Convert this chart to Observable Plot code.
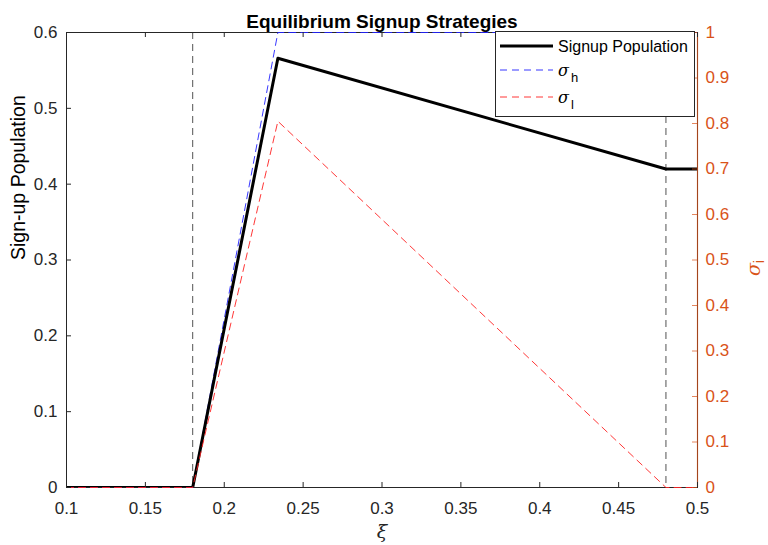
<!DOCTYPE html>
<html><head><meta charset="utf-8">
<script src="https://cdn.jsdelivr.net/npm/d3@7"></script>
<script src="https://cdn.jsdelivr.net/npm/@observablehq/plot@0.6"></script>
<style>
body{margin:0;background:#fff;font-family:"Liberation Sans",Arial,sans-serif;}
#wrap{position:relative;width:768px;height:545px;overflow:hidden;}
#legend{position:absolute;left:495px;top:31px;}
</style>
</head><body>
<div id="wrap"></div>
<script>
// ---- data ----
const xi      = [0.1, 0.18, 0.234, 0.48, 0.5];
const signup  = [0, 0, 0.566, 0.42, 0.42];
const sigmaH  = [0, 0, 1, 1, 1];
const sigmaL  = [0, 0, 0.805, 0, 0];
const thresholds = [0.18, 0.48];
const xTicks = [0.1, 0.15, 0.2, 0.25, 0.3, 0.35, 0.4, 0.45, 0.5];
const yTicks = [0, 0.1, 0.2, 0.3, 0.4, 0.5, 0.6];
const sTicks = [0, 0.1, 0.2, 0.3, 0.4, 0.5, 0.6, 0.7, 0.8, 0.9, 1];
const title = "Equilibrium Signup Strategies";
const yLabel = "Sign-up Population";
const xLabel = "ξ";
const legendNames = ["Signup Population", "σ|h", "σ|l"];

const rows = xi.map((x, i) => ({xi: x, signup: signup[i], sigmaH: sigmaH[i], sigmaL: sigmaL[i]}));

const W = 768, H = 545, mL = 66, mR = 71, mT = 32, mB = 58;
const pW = W - mL - mR, pH = H - mT - mB;
const yMax = 0.6; // left axis max; right axis (0..1) mapped onto it
const fmt = d => String(Math.round(d * 100) / 100);
const ORANGE = "#D95319", INK = "#262626";

const chart = Plot.plot({
  width: W, height: H,
  marginLeft: mL, marginRight: mR, marginTop: mT, marginBottom: mB,
  x: {domain: [0.1, 0.5]},
  y: {domain: [0, yMax]},
  style: {fontFamily: "'Liberation Sans', Arial, sans-serif", fontSize: "17px", color: INK, background: "#fff"},
  marks: [
    Plot.frame({stroke: INK, strokeWidth: 1}),
    Plot.ruleX([0.5], {x: d => d, stroke: ORANGE, strokeOpacity: 0.7, strokeWidth: 1.2}),
    Plot.ruleX(thresholds, {x: d => d, stroke: INK, strokeWidth: 0.8, strokeDasharray: "7,5"}),
    Plot.line(rows, {x: "xi", y: d => d.sigmaH * yMax, stroke: "#2020ff", strokeWidth: 0.9, strokeDasharray: "7,5"}),
    Plot.line(rows, {x: "xi", y: "signup", stroke: "#000", strokeWidth: 3, clip: true}),
    Plot.line(rows, {x: "xi", y: d => d.sigmaL * yMax, stroke: "#ff2020", strokeWidth: 0.9, strokeDasharray: "7,5"}),
    // x axis
    Plot.axisX(xTicks, {anchor: "bottom", tickSize: 0, tickPadding: 14, tickFormat: fmt, label: null, fill: INK}),
    Plot.tickX(xTicks, {x: d => d, insetTop: pH - 5, stroke: INK}),
    Plot.tickX(xTicks, {x: d => d, insetBottom: pH - 5, stroke: INK}),
    // left y axis
    Plot.axisY(yTicks, {anchor: "left", tickSize: 0, tickPadding: 9, tickFormat: fmt, label: null, fill: INK}),
    Plot.tickY(yTicks, {y: d => d, insetRight: pW - 5, stroke: INK}),
    // right y axis (sigma)
    Plot.axisY(sTicks.map(t => t * yMax), {anchor: "right", tickSize: 0, tickPadding: 8, tickFormat: d => fmt(d / yMax), label: null, fill: ORANGE}),
    Plot.tickY(sTicks, {y: d => d * yMax, insetLeft: pW - 5, stroke: ORANGE, strokeOpacity: 0.7}),
    // labels
    Plot.text([title], {frameAnchor: "top", dy: -18, fontWeight: "bold", fontSize: 19, fill: "#000"}),
    Plot.text([yLabel], {frameAnchor: "left", dx: -48, rotate: -90, fontSize: 19.5, fill: "#000"}),
    Plot.text([xLabel], {frameAnchor: "bottom", dy: 50, fontStyle: "italic", fontSize: 19, fill: INK, fontFamily: "'DejaVu Serif', serif"}),
    Plot.text(["σi"], {frameAnchor: "right", dx: 56, rotate: -90, fontSize: 19, fill: ORANGE, className: "siglabel"})
  ]
});
document.getElementById("wrap").appendChild(chart);

// subscript for right label
const st = d3.select(chart).select("g.siglabel text");
st.text(null);
st.append("tspan").attr("font-style", "italic").attr("font-family", "'DejaVu Serif', serif").text("σ");
st.append("tspan").attr("font-size", 14).attr("dy", "0.35em").text("i");

// legend overlay (real text)
const lg = d3.select("#wrap").append("svg").attr("id", "legend").attr("width", 200).attr("height", 86)
  .style("font-family", "'Liberation Sans', Arial, sans-serif");
lg.append("rect").attr("x", 0.5).attr("y", 0.5).attr("width", 199).attr("height", 85).attr("fill", "#fff").attr("stroke", INK);
const lgStyles = [
  {stroke: "#000", w: 3, dash: null},
  {stroke: "#2020ff", w: 0.9, dash: "7,5"},
  {stroke: "#ff2020", w: 0.9, dash: "7,5"}
];
const rowY = [15, 39, 66];
legendNames.forEach((name, i) => {
  const s = lgStyles[i];
  lg.append("line").attr("x1", 5).attr("x2", 58).attr("y1", rowY[i]).attr("y2", rowY[i])
    .attr("stroke", s.stroke).attr("stroke-width", s.w).attr("stroke-dasharray", s.dash);
  const t = lg.append("text").attr("x", 63).attr("y", rowY[i]).attr("dy", "0.35em").attr("font-size", 16).attr("fill", "#000");
  if (name.includes("|")) {
    const [a, b] = name.split("|");
    t.append("tspan").attr("font-style", "italic").attr("font-family", "'DejaVu Serif', serif").text(a);
    t.append("tspan").attr("font-size", 13).attr("dy", "0.5em").attr("dx", 2).text(b);
  } else {
    t.text(name);
  }
});
</script>
</body></html>
